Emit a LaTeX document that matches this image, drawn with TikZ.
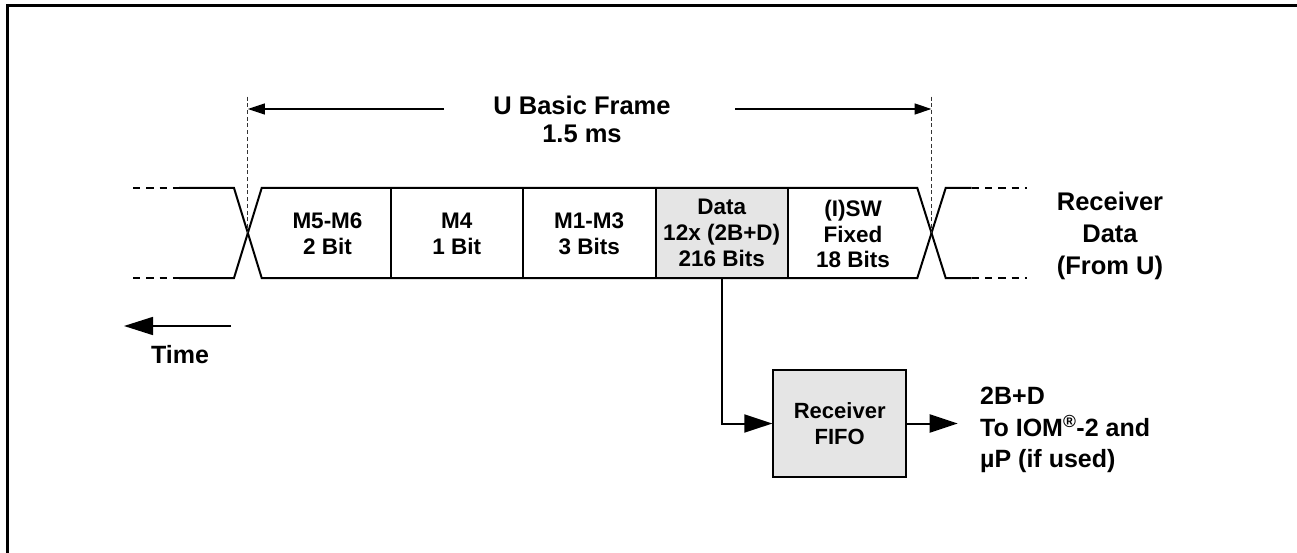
\documentclass[tikz,border=0pt]{standalone}
\usepackage{fontspec}
\setmainfont{Liberation Sans}
\usetikzlibrary{arrows.meta}
\begin{document}
\begin{tikzpicture}[x=1pt,y=-1pt,
  bus/.style={line width=2pt},
  busdash/.style={line width=2pt, dash pattern=on 7.3pt off 6pt},
  marker/.style={line width=1.3pt, dash pattern=on 4pt off 2.7pt, black!80},
  cell/.style={inner sep=0pt, align=center, font=\fontsize{22.5}{25.8}\selectfont\bfseries},
  datacell/.style={cell, fill=gray!20, minimum width=132pt, minimum height=90pt},
  titletext/.style={inner sep=0pt, align=center, font=\fontsize{25.5}{28}\selectfont\bfseries},
  sidetext/.style={inner sep=0pt, align=center, font=\fontsize{25.5}{32}\selectfont\bfseries},
  outtext/.style={inner sep=0pt, align=left, font=\fontsize{25}{31.5}\selectfont\bfseries},
  fifobox/.style={draw, line width=2pt, fill=gray!20, minimum width=132.7pt, minimum height=106.4pt, inner sep=0pt, align=center, font=\fontsize{22}{26.7}\selectfont\bfseries},
  dimarrow/.style={line width=1.3pt, -{Triangle[length=17pt,width=11pt]}},
  flow/.style={line width=2pt, -{Triangle[length=28pt,width=18pt]}},
  timearrow/.style={line width=1.6pt, -{Triangle[length=29pt,width=18pt]}}
]
\useasboundingbox (0,0) rectangle (1297,553);
% outer frame (left and top edges)
\begin{scope}
\clip (0,0) rectangle (1297,553);
\draw[line width=3pt] (7,560) -- (7,6) -- (1305,6);
\end{scope}

% shaded data cell first
\node[datacell] (data) at (721.7,233) {Data\\12x (2B+D)\\216 Bits};

% bus lines
\draw[bus] (179,188) -- (234,188) -- (261.7,278) -- (917.3,278) -- (945.7,188) -- (971.7,188);
\draw[bus] (179,278) -- (234,278) -- (261.7,188) -- (917.3,188) -- (945.7,278) -- (971.7,278);
\draw[busdash] (133,188) -- (179,188);
\draw[busdash] (133,278) -- (179,278);
\draw[busdash] (971.7,188) -- (1026.7,188);
\draw[busdash] (971.7,278) -- (1026.7,278);
% cell dividers
\draw[bus] (391,188) -- (391,278);
\draw[bus] (522.7,188) -- (522.7,278);
\draw[bus] (655.7,188) -- (655.7,278);
\draw[bus] (787.7,188) -- (787.7,278);

% cell texts
\node[cell] (m56) at (327.5,234) {M5-M6\\2 Bit};
\node[cell] (m4) at (456.8,234) {M4\\1 Bit};
\node[cell] (m13) at (589.2,234) {M1-M3\\3 Bits};
\node[cell] (isw) at (853,234) {(I)SW\\Fixed\\18 Bits};

% frame markers
\draw[marker] (247.8,96.7) -- (247.8,233);
\draw[marker] (931.5,96.7) -- (931.5,233);

% title and dimension arrows
\node[titletext] (title) at (582,119) {U Basic Frame\\1.5 ms};
\coordinate (tlstart) at (444,109);
\coordinate (tlend) at (247.8,109);
\coordinate (trstart) at (735,109);
\coordinate (trend) at (931.5,109);
\draw[dimarrow] (tlstart) -- (tlend);
\draw[dimarrow] (trstart) -- (trend);

% receiver data label
\node[sidetext] (rx) at (1110,236) {Receiver\\Data\\(From U)};

% time arrow
\coordinate (tstart) at (231,326);
\coordinate (tend) at (124,326);
\draw[timearrow] (tstart) -- (tend);
\node[inner sep=0pt, font=\fontsize{25}{30}\selectfont\bfseries] (time) at (180,355) {Time};

% FIFO
\node[fifobox] (fifo) at (839.7,423.5) {Receiver\\FIFO};
\draw[flow] (data.south) |- (fifo.west);
\coordinate (outend) at (957.7,423.5);
\draw[flow] (fifo.east) -- (outend);
\node[outtext, anchor=west] (out) at (980,430) {2B+D\\To IOM\textsuperscript{®}-2 and\\µP (if used)};
\end{tikzpicture}
\end{document}
